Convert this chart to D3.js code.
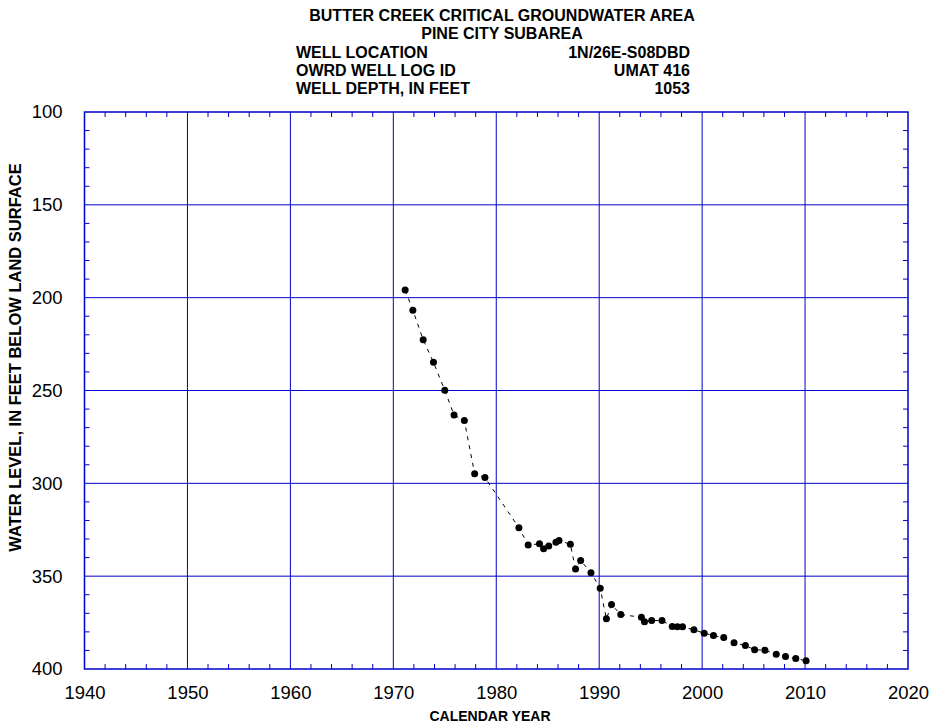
<!DOCTYPE html>
<html><head><meta charset="utf-8">
<script src="https://cdn.jsdelivr.net/npm/d3@7"></script>
<style>body{margin:0;background:#fff}svg{display:block}text{font-family:"Liberation Sans",Arial,sans-serif}</style>
</head><body><svg id="c" width="930" height="723"></svg>
<script>
const years = [1971.15,1971.9,1972.9,1973.9,1975.0,1975.9,1976.9,1977.9,1978.9,1982.2,1983.1,1984.2,1984.6,1985.1,1985.8,1986.1,1987.2,1987.7,1988.2,1989.2,1990.1,1990.7,1991.2,1992.1,1994.1,1994.4,1995.1,1996.1,1997.1,1997.6,1998.1,1999.2,2000.2,2001.1,2002.1,2003.1,2004.2,2005.1,2006.1,2007.2,2008.1,2009.1,2010.1];
const levels = [195.9,206.8,222.6,234.8,249.9,263.2,266.2,294.8,296.9,323.9,333.2,332.6,335.3,333.7,331.7,330.8,332.8,346.1,341.6,348.1,356.5,373.0,365.3,370.7,372.1,374.6,373.9,373.9,377.1,377.3,377.3,378.9,380.7,382.0,383.1,385.8,387.4,389.6,389.9,392.0,393.3,394.4,395.5];
const xTicks = [1940,1950,1960,1970,1980,1990,2000,2010,2020];
const yTicks = [100,150,200,250,300,350,400];
const titleLines = ["BUTTER CREEK CRITICAL GROUNDWATER AREA","PINE CITY SUBAREA"];
const infoLabels = ["WELL LOCATION","OWRD WELL LOG ID","WELL DEPTH, IN FEET"];
const infoValues = ["1N/26E-S08DBD","UMAT 416","1053"];

const svg = d3.select("#c");
const L=84.5, R=908, T=112, B=669;
const blue="#0000cc";
const x = d3.scaleLinear().domain([1940,2020]).range([L,R]);
const y = d3.scaleLinear().domain([100,400]).range([T,B]);

// grid
svg.append("g").selectAll("line").data(xTicks.slice(1,-1)).join("line")
  .attr("x1",d=>x(d)).attr("x2",d=>x(d)).attr("y1",T).attr("y2",B).attr("stroke",blue).attr("stroke-width",1);
svg.append("g").selectAll("line").data(yTicks.slice(1,-1)).join("line")
  .attr("y1",d=>y(d)).attr("y2",d=>y(d)).attr("x1",L).attr("x2",R).attr("stroke",blue).attr("stroke-width",1);

// minor ticks inward
const xMinor = d3.range(1942,2020,2).filter(d=>d%10!==0);
const yMinor = d3.range(110,400,10).filter(d=>d%50!==0);
const tk=5;
const g = svg.append("g").attr("stroke",blue).attr("stroke-width",1);
xMinor.forEach(d=>{
  g.append("line").attr("x1",x(d)).attr("x2",x(d)).attr("y1",T).attr("y2",T+tk);
  g.append("line").attr("x1",x(d)).attr("x2",x(d)).attr("y1",B).attr("y2",B-tk);
});
yMinor.forEach(d=>{
  g.append("line").attr("y1",y(d)).attr("y2",y(d)).attr("x1",L).attr("x2",L+tk);
  g.append("line").attr("y1",y(d)).attr("y2",y(d)).attr("x1",R).attr("x2",R-tk);
});
svg.append("rect").attr("x",L).attr("y",T).attr("width",R-L).attr("height",B-T)
  .attr("fill","none").attr("stroke",blue).attr("stroke-width",1.5);

// axis labels via d3 axes
const xa = svg.append("g").attr("transform",`translate(0,${B})`)
  .call(d3.axisBottom(x).tickValues(xTicks).tickFormat(d3.format("d")).tickSize(0).tickPadding(17));
xa.select(".domain").remove();
xa.selectAll("text").attr("font-size",18.5).attr("fill","#000").attr("font-family","Liberation Sans, Arial, sans-serif");
const ya = svg.append("g").attr("transform",`translate(${L},0)`)
  .call(d3.axisLeft(y).tickValues(yTicks).tickSize(0).tickPadding(22));
ya.select(".domain").remove();
ya.selectAll("text").attr("font-size",18.5).attr("fill","#000").attr("font-family","Liberation Sans, Arial, sans-serif");

// data line
const data = years.map((d,i)=>[d,levels[i]]);
svg.append("path").datum(data).attr("fill","none").attr("stroke","#000").attr("stroke-width",1)
  .attr("stroke-dasharray","4,5")
  .attr("d",d3.line().x(d=>x(d[0])).y(d=>y(d[1])));
svg.append("g").selectAll("circle").data(data).join("circle")
  .attr("cx",d=>x(d[0])).attr("cy",d=>y(d[1])).attr("r",3.5).attr("fill","#000");

// titles
const tY=[21,38.5];
svg.append("g").selectAll("text").data(titleLines).join("text")
  .attr("x",502).attr("y",(d,i)=>tY[i]).attr("text-anchor","middle")
  .attr("font-weight","bold").attr("font-size",16).text(d=>d);
const iY=[58,76,94];
svg.append("g").selectAll("text").data(infoLabels).join("text")
  .attr("x",296).attr("y",(d,i)=>iY[i]).attr("font-weight","bold").attr("font-size",16).text(d=>d);
svg.append("g").selectAll("text").data(infoValues).join("text")
  .attr("x",690).attr("y",(d,i)=>iY[i]).attr("text-anchor","end").attr("font-weight","bold").attr("font-size",16).text(d=>d);

svg.append("text").attr("x",490).attr("y",721).attr("text-anchor","middle")
  .attr("font-weight","bold").attr("font-size",14).text("CALENDAR YEAR");
svg.append("text").attr("transform",`translate(21,357.5) rotate(-90)`).attr("text-anchor","middle")
  .attr("font-weight","bold").attr("font-size",16.5).text("WATER LEVEL, IN FEET BELOW LAND SURFACE");
</script></body></html>
